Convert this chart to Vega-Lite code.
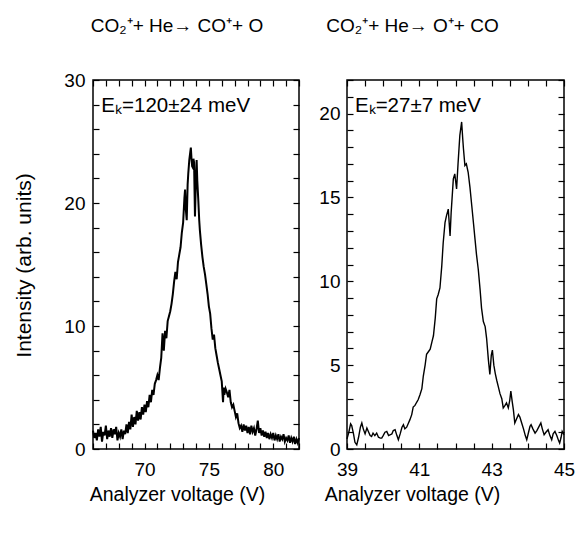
{
  "$schema": "https://vega.github.io/schema/vega-lite/v6.json",
  "background": "white",
  "padding": {"left": 12, "top": 16, "right": 0, "bottom": 0},
  "config": {
    "font": "Liberation Sans",
    "view": {"stroke": "black", "strokeWidth": 1.5},
    "axis": {
      "grid": false, "domain": false, "ticks": true, "tickSize": 6, "offset": -6, "tickColor": "black", "tickWidth": 1.2,
      "labelFontSize": 19, "labelColor": "black", "labelFlush": false, "labelOverlap": false,
      "titleFontSize": 19.5, "titleColor": "black", "titleFontWeight": "normal"
    },
    "title": {"fontSize": 19, "fontWeight": "normal", "color": "black", "font": "Liberation Sans"}
  },
  "datasets": {
    "left": [
      {"v":66.0,"i":1.5},{"v":66.1,"i":0.9},{"v":66.2,"i":1.3},{"v":66.3,"i":0.7},{"v":66.4,"i":1.6},{"v":66.5,"i":1.0},{"v":66.6,"i":1.8},{"v":66.7,"i":0.6},{"v":66.8,"i":1.4},{"v":66.9,"i":1.1},
      {"v":67.0,"i":1.9},{"v":67.1,"i":0.8},{"v":67.2,"i":1.5},{"v":67.3,"i":1.0},{"v":67.4,"i":1.7},{"v":67.5,"i":0.9},{"v":67.6,"i":1.6},{"v":67.7,"i":1.2},{"v":67.8,"i":1.8},{"v":67.9,"i":0.7},
      {"v":68.0,"i":1.3},{"v":68.1,"i":1.0},{"v":68.2,"i":1.6},{"v":68.3,"i":0.8},{"v":68.4,"i":1.5},{"v":68.5,"i":1.2},{"v":68.6,"i":2.0},{"v":68.7,"i":1.3},{"v":68.8,"i":2.2},{"v":68.9,"i":1.6},
      {"v":69.0,"i":2.8},{"v":69.1,"i":1.8},{"v":69.2,"i":2.6},{"v":69.3,"i":2.0},{"v":69.4,"i":3.1},{"v":69.5,"i":2.3},{"v":69.6,"i":3.0},{"v":69.7,"i":2.4},{"v":69.8,"i":3.4},{"v":69.9,"i":2.8},
      {"v":70.0,"i":3.6},{"v":70.1,"i":3.0},{"v":70.2,"i":3.9},{"v":70.3,"i":3.4},{"v":70.4,"i":4.4},{"v":70.5,"i":3.8},{"v":70.6,"i":4.8},{"v":70.7,"i":4.4},{"v":70.8,"i":5.3},{"v":70.9,"i":5.6},
      {"v":71.0,"i":6.0},{"v":71.1,"i":5.6},{"v":71.2,"i":6.6},{"v":71.3,"i":7.4},{"v":71.4,"i":9.4},{"v":71.5,"i":8.0},{"v":71.6,"i":9.6},{"v":71.7,"i":9.0},{"v":71.8,"i":10.4},{"v":71.9,"i":10.8},
      {"v":72.0,"i":11.2},{"v":72.1,"i":11.8},{"v":72.2,"i":12.6},{"v":72.3,"i":13.6},{"v":72.4,"i":14.4},{"v":72.5,"i":13.8},{"v":72.6,"i":15.2},{"v":72.7,"i":15.8},{"v":72.8,"i":16.4},{"v":72.9,"i":17.6},
      {"v":73.0,"i":18.4},{"v":73.1,"i":20.4},{"v":73.15,"i":21.1},{"v":73.2,"i":19.6},{"v":73.28,"i":18.6},{"v":73.35,"i":21.5},{"v":73.4,"i":22.4},{"v":73.48,"i":23.5},{"v":73.55,"i":24.1},{"v":73.6,"i":24.5},
      {"v":73.65,"i":23.6},{"v":73.7,"i":23.0},{"v":73.75,"i":22.9},{"v":73.8,"i":23.6},{"v":73.85,"i":23.3},{"v":73.92,"i":18.9},{"v":74.0,"i":22.2},{"v":74.05,"i":23.5},{"v":74.1,"i":21.8},{"v":74.18,"i":20.2},
      {"v":74.25,"i":18.6},{"v":74.3,"i":17.8},{"v":74.4,"i":16.6},{"v":74.5,"i":15.6},{"v":74.6,"i":14.8},{"v":74.7,"i":14.2},{"v":74.8,"i":13.4},{"v":74.9,"i":12.6},{"v":75.0,"i":11.6},{"v":75.1,"i":11.0},
      {"v":75.2,"i":9.8},{"v":75.3,"i":8.9},{"v":75.4,"i":9.3},{"v":75.5,"i":8.2},{"v":75.6,"i":7.6},{"v":75.7,"i":7.0},{"v":75.8,"i":6.5},{"v":75.9,"i":6.0},{"v":76.0,"i":5.5},{"v":76.1,"i":3.8},
      {"v":76.15,"i":5.0},{"v":76.2,"i":4.4},{"v":76.3,"i":4.9},{"v":76.4,"i":4.6},{"v":76.5,"i":4.2},{"v":76.6,"i":4.8},{"v":76.7,"i":3.8},{"v":76.8,"i":3.4},{"v":76.9,"i":3.6},{"v":77.0,"i":3.1},
      {"v":77.1,"i":2.6},{"v":77.2,"i":2.9},{"v":77.3,"i":2.1},{"v":77.4,"i":1.7},{"v":77.5,"i":1.9},{"v":77.6,"i":1.4},{"v":77.7,"i":2.0},{"v":77.8,"i":1.5},{"v":77.9,"i":1.9},{"v":78.0,"i":1.3},
      {"v":78.1,"i":1.8},{"v":78.2,"i":1.2},{"v":78.3,"i":1.9},{"v":78.4,"i":1.4},{"v":78.5,"i":1.7},{"v":78.6,"i":1.1},{"v":78.7,"i":1.6},{"v":78.8,"i":2.3},{"v":78.9,"i":1.3},{"v":79.0,"i":1.7},
      {"v":79.1,"i":1.1},{"v":79.2,"i":1.5},{"v":79.3,"i":1.0},{"v":79.4,"i":1.4},{"v":79.5,"i":0.9},{"v":79.6,"i":1.3},{"v":79.7,"i":0.8},{"v":79.8,"i":1.2},{"v":79.9,"i":0.9},{"v":80.0,"i":1.3},
      {"v":80.1,"i":0.7},{"v":80.2,"i":1.1},{"v":80.3,"i":0.8},{"v":80.4,"i":1.2},{"v":80.5,"i":0.6},{"v":80.6,"i":1.0},{"v":80.7,"i":0.8},{"v":80.8,"i":1.2},{"v":80.9,"i":0.6},{"v":81.0,"i":0.9},
      {"v":81.1,"i":0.7},{"v":81.2,"i":1.1},{"v":81.3,"i":0.5},{"v":81.4,"i":0.9},{"v":81.5,"i":0.6},{"v":81.6,"i":1.0},{"v":81.7,"i":0.4},{"v":81.8,"i":0.8},{"v":81.9,"i":0.5},{"v":82.0,"i":0.9}
    ],
    "right": [
      {"v":39.00,"i":0.6},{"v":39.05,"i":1.0},{"v":39.10,"i":1.5},{"v":39.13,"i":1.4},{"v":39.18,"i":0.9},{"v":39.22,"i":0.4},{"v":39.27,"i":0.25},{"v":39.32,"i":0.7},{"v":39.37,"i":1.3},{"v":39.41,"i":1.55},
      {"v":39.45,"i":1.2},{"v":39.50,"i":0.9},{"v":39.55,"i":1.25},{"v":39.60,"i":1.0},{"v":39.64,"i":0.8},{"v":39.68,"i":0.75},{"v":39.72,"i":0.95},{"v":39.77,"i":0.8},{"v":39.82,"i":0.95},{"v":39.87,"i":0.7},
      {"v":39.92,"i":0.65},{"v":39.96,"i":0.65},{"v":40.00,"i":0.8},{"v":40.05,"i":1.0},{"v":40.10,"i":1.05},{"v":40.15,"i":0.8},{"v":40.20,"i":0.85},{"v":40.24,"i":0.9},{"v":40.28,"i":1.1},{"v":40.33,"i":1.15},
      {"v":40.38,"i":0.8},{"v":40.42,"i":0.55},{"v":40.47,"i":0.9},{"v":40.52,"i":1.3},{"v":40.56,"i":1.45},{"v":40.60,"i":1.2},{"v":40.65,"i":1.3},{"v":40.70,"i":1.55},{"v":40.74,"i":1.75},{"v":40.79,"i":2.05},
      {"v":40.83,"i":2.5},{"v":40.88,"i":2.6},{"v":40.93,"i":2.8},{"v":40.97,"i":2.95},{"v":41.02,"i":3.25},{"v":41.07,"i":3.6},{"v":41.11,"i":4.35},{"v":41.16,"i":5.0},{"v":41.20,"i":5.65},{"v":41.25,"i":5.8},
      {"v":41.30,"i":5.95},{"v":41.35,"i":6.4},{"v":41.39,"i":6.75},{"v":41.44,"i":7.8},{"v":41.48,"i":8.95},{"v":41.52,"i":9.2},{"v":41.57,"i":9.6},{"v":41.62,"i":10.9},{"v":41.66,"i":12.3},{"v":41.71,"i":13.5},
      {"v":41.75,"i":13.9},{"v":41.80,"i":14.3},{"v":41.85,"i":12.7},{"v":41.88,"i":14.1},{"v":41.94,"i":16.1},{"v":41.98,"i":16.4},{"v":42.03,"i":15.5},{"v":42.07,"i":17.0},{"v":42.12,"i":18.7},{"v":42.17,"i":19.5},
      {"v":42.20,"i":18.5},{"v":42.22,"i":17.9},{"v":42.26,"i":16.9},{"v":42.30,"i":17.0},{"v":42.35,"i":16.5},{"v":42.40,"i":15.6},{"v":42.45,"i":14.5},{"v":42.50,"i":13.4},{"v":42.54,"i":12.5},{"v":42.58,"i":11.6},
      {"v":42.63,"i":10.7},{"v":42.68,"i":9.5},{"v":42.72,"i":8.4},{"v":42.77,"i":7.6},{"v":42.82,"i":7.3},{"v":42.86,"i":6.6},{"v":42.91,"i":5.3},{"v":42.95,"i":4.45},{"v":42.99,"i":5.6},{"v":43.02,"i":5.9},
      {"v":43.06,"i":5.0},{"v":43.10,"i":4.5},{"v":43.14,"i":4.1},{"v":43.18,"i":3.75},{"v":43.23,"i":3.3},{"v":43.28,"i":3.0},{"v":43.32,"i":2.45},{"v":43.37,"i":2.6},{"v":43.41,"i":2.75},{"v":43.46,"i":2.45},
      {"v":43.50,"i":2.9},{"v":43.53,"i":3.45},{"v":43.57,"i":2.8},{"v":43.60,"i":2.35},{"v":43.64,"i":1.55},{"v":43.69,"i":1.8},{"v":43.74,"i":2.05},{"v":43.78,"i":1.9},{"v":43.83,"i":1.55},{"v":43.88,"i":1.2},
      {"v":43.93,"i":0.8},{"v":43.97,"i":0.55},{"v":44.02,"i":1.0},{"v":44.06,"i":1.35},{"v":44.09,"i":1.45},{"v":44.14,"i":1.2},{"v":44.20,"i":0.95},{"v":44.25,"i":1.1},{"v":44.30,"i":1.3},{"v":44.36,"i":1.55},
      {"v":44.40,"i":1.2},{"v":44.45,"i":0.85},{"v":44.50,"i":1.0},{"v":44.56,"i":1.15},{"v":44.61,"i":0.8},{"v":44.66,"i":0.55},{"v":44.70,"i":0.9},{"v":44.75,"i":1.05},{"v":44.80,"i":0.8},{"v":44.85,"i":0.5},
      {"v":44.88,"i":0.35},{"v":44.92,"i":0.7},{"v":44.95,"i":1.05},{"v":45.00,"i":0.85}
    ],
    "leftLabel": [{"t": "Eₖ=120±24 meV"}],
    "rightLabel": [{"t": "Eₖ=27±7 meV"}]
  },
  "hconcat": [
    {
      "width": 206, "height": 369,
      "title": {"text": "CO₂⁺+ He→ CO⁺+ O", "anchor": "middle", "dx": -19, "offset": 20, "baseline": "alphabetic", "frame": "group"},
      "layer": [
        {
          "data": {"name": "left"},
          "mark": {"type": "line", "color": "black", "strokeWidth": 2},
          "encoding": {
            "x": {"field": "v", "type": "quantitative", "scale": {"domain": [66, 82], "nice": false, "zero": false},
              "axis": {"orient": "bottom", "title": "Analyzer voltage (V)", "values": [66,67,68,69,70,71,72,73,74,75,76,77,78,79,80,81,82],
                "labelExpr": "datum.value % 5 == 0 ? datum.label : ''", "labelPadding": 11,
                "titleX": 84, "titleY": 57, "titleAlign": "center", "titleBaseline": "alphabetic"}},
            "y": {"field": "i", "type": "quantitative", "scale": {"domain": [0, 30], "nice": false},
              "axis": {"orient": "left", "title": "Intensity (arb. units)", "values": [0,2,4,6,8,10,12,14,16,18,20,22,24,26,28,30],
                "labelExpr": "datum.value % 10 == 0 ? datum.label : ''", "labelPadding": 8, "titleFontSize": 21,
                "titleX": -69, "titleY": 185, "titleAngle": -90, "titleAlign": "center", "titleBaseline": "alphabetic"}}
          }
        },
        {
          "data": {"name": "leftLabel"},
          "mark": {"type": "text", "align": "left", "baseline": "alphabetic", "fontSize": 20.5, "color": "black"},
          "encoding": {
            "text": {"field": "t"},
            "x": {"datum": 66.65, "type": "quantitative",
              "axis": {"orient": "top", "title": null, "labels": false, "values": [66,67,68,69,70,71,72,73,74,75,76,77,78,79,80,81,82]}},
            "y": {"datum": 27.4, "type": "quantitative",
              "axis": {"orient": "right", "title": null, "labels": false, "values": [0,2,4,6,8,10,12,14,16,18,20,22,24,26,28,30]}}
          }
        }
      ],
      "resolve": {"axis": {"x": "independent", "y": "independent"}}
    },
    {
      "width": 217, "height": 369,
      "title": {"text": "CO₂⁺+ He→ O⁺+ CO", "anchor": "middle", "dx": -43, "offset": 20, "baseline": "alphabetic", "frame": "group"},
      "layer": [
        {
          "data": {"name": "right"},
          "mark": {"type": "line", "color": "black", "strokeWidth": 1.4},
          "encoding": {
            "x": {"field": "v", "type": "quantitative", "scale": {"domain": [39, 45], "nice": false, "zero": false},
              "axis": {"orient": "bottom", "title": "Analyzer voltage (V)", "values": [39,39.5,40,40.5,41,41.5,42,42.5,43,43.5,44,44.5,45],
                "labelExpr": "datum.value % 2 == 1 ? format(datum.value, 'd') : ''", "labelPadding": 11,
                "titleX": 65, "titleY": 57, "titleAlign": "center", "titleBaseline": "alphabetic"}},
            "y": {"field": "i", "type": "quantitative", "scale": {"domain": [0, 22], "nice": false},
              "axis": {"orient": "left", "title": null, "values": [0,1,2,3,4,5,6,7,8,9,10,11,12,13,14,15,16,17,18,19,20,21,22],
                "labelExpr": "datum.value % 5 == 0 ? datum.label : ''", "labelPadding": 7}}
          }
        },
        {
          "data": {"name": "rightLabel"},
          "mark": {"type": "text", "align": "left", "baseline": "alphabetic", "fontSize": 20.5, "color": "black"},
          "encoding": {
            "text": {"field": "t"},
            "x": {"datum": 39.22, "type": "quantitative",
              "axis": {"orient": "top", "title": null, "labels": false, "values": [39,39.5,40,40.5,41,41.5,42,42.5,43,43.5,44,44.5,45]}},
            "y": {"datum": 20.1, "type": "quantitative",
              "axis": {"orient": "right", "title": null, "labels": false, "values": [0,1,2,3,4,5,6,7,8,9,10,11,12,13,14,15,16,17,18,19,20,21,22]}}
          }
        }
      ],
      "resolve": {"axis": {"x": "independent", "y": "independent"}}
    }
  ],
  "spacing": 48,
  "bounds": "flush"
}
